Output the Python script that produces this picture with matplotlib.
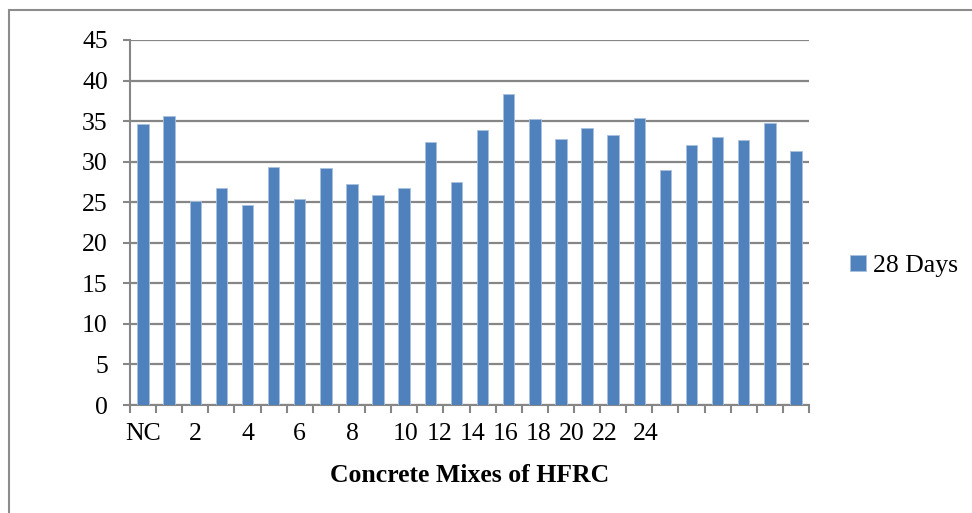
import numpy as np
import matplotlib.pyplot as plt
from matplotlib.patches import Rectangle

plt.rcParams['font.family'] = ['Liberation Serif', 'DejaVu Serif']

# compressive strength at 28 days for each concrete mix
mixes = ["NC"] + [str(i) for i in range(1, 26)]
strength_28 = [34.7, 35.6, 25.2, 26.7, 24.7, 29.3, 25.4, 29.2, 27.3, 25.9,
               26.7, 32.4, 27.5, 33.9, 38.3, 35.2, 32.8, 34.2, 33.3, 35.4,
               29.0, 32.0, 33.1, 32.7, 34.8, 31.3]

# axis labels as they sit under the category axis
tick_text = ["NC", "2", "4", "6", "8", "10", "12", "14", "16", "18", "20", "22", "24"]
tick_pos = [0, 2.0, 4.0, 6.0, 8.0, 10.04, 11.35, 12.61, 13.88, 15.14, 16.41, 17.67, 19.25]

grey = '#868686'
blue = '#4F81BD'
fs = 18.5

fig = plt.figure(figsize=(9.72, 5.13), dpi=100)
ax = fig.add_axes([130/972, 1 - 405/513, 679/972, 365/513])

x = np.arange(len(mixes))
ax.bar(x, strength_28, width=0.44, color=blue, edgecolor='#a9c0dd', linewidth=0.6,
       label='28 Days', zorder=3)

ax.set_xlim(-0.5, len(mixes) - 0.5)
ax.set_ylim(0, 45)
ax.set_yticks(np.arange(0, 46, 5))
ax.yaxis.grid(True, color=grey, linewidth=1.6, zorder=0)

for side in ['top', 'right']:
    ax.spines[side].set_visible(False)
for side in ['left', 'bottom']:
    ax.spines[side].set_color(grey)
    ax.spines[side].set_linewidth(1.5)

# category boundaries get the tick marks, the text goes on minor ticks
ax.set_xticks(np.arange(len(mixes) + 1) - 0.5)
ax.set_xticklabels([])
ax.set_xticks(tick_pos, minor=True)
ax.set_xticklabels(tick_text, minor=True)
ax.tick_params(axis='x', which='major', length=6, width=1.5, color=grey, direction='out')
ax.tick_params(axis='x', which='minor', length=0, pad=13, labelsize=fs)
ax.tick_params(axis='y', length=5, width=1.5, color=grey, pad=11, labelsize=fs)

fig.text(470/972, 1 - 475/513, "Concrete Mixes of HFRC", ha='center', va='center',
         fontsize=fs, fontweight='bold')

ax.legend(loc='center left', bbox_to_anchor=(827/972, 1 - 266/513),
          bbox_transform=fig.transFigure, frameon=False, fontsize=fs,
          handlelength=0.6, handleheight=0.6, handletextpad=0.3)

# chart frame
fig.patches.append(Rectangle((9/972, -0.05), 1.1, 1 - 10/513 + 0.05,
                             transform=fig.transFigure, fill=False,
                             edgecolor='#8c8c8c', linewidth=1.5))

fig.savefig('out.png', dpi=100)
